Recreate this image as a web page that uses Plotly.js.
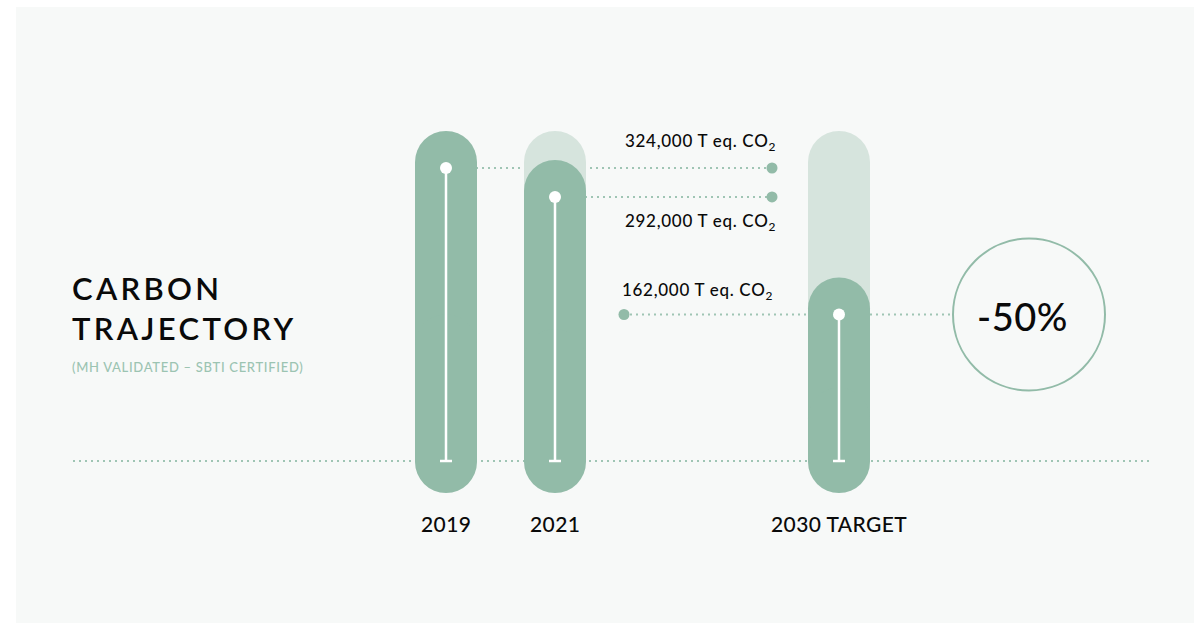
<!DOCTYPE html>
<html><head><meta charset="utf-8">
<script src="https://cdn.plot.ly/plotly-3.0.1.min.js"></script>
<style>html,body{margin:0;padding:0;background:#fff}#chart{width:1194px;height:623px}</style>
</head><body><div id="chart"></div>
<script>
// ---- data ----
const categories = ['2019', '2021', '2030 TARGET'];
const emissions = [324000, 292000, 162000];          // T eq. CO2
const referenceLevel = 324000;                        // 2019 level, drawn as ghost bar
const valueLabels = ['324,000 T eq. CO<sub>2</sub>', '292,000 T eq. CO<sub>2</sub>', '162,000 T eq. CO<sub>2</sub>'];
const reductionLabel = '-50%';
const titleLines = ['CARBON', 'TRAJECTORY'];
const subtitleText = '(MH VALIDATED – SBTI CERTIFIED)';

// ---- layout / style constants ----
const W = 1194, H = 623;
const baselinePx = 461, refPx = 168;                  // pixel rows of 0 and of 324,000
const scale = (baselinePx - refPx) / 324000;          // px per T
const yMin = -(H - baselinePx) / scale, yMax = baselinePx / scale;
const catX = [446, 555, 839];
const barW = 62;
const padTop = 37 / scale, padBot = 32 / scale;
const endDotX = 772, startDotX = 624, circleX = 1029;
const GREEN = '#92bba8', GHOST = '#d6e4dd', DOT = '#9fc5b4', BG = '#f7f9f8', INK = '#0a0a0a';
const FONT = 'Lato, "Open Sans", sans-serif';
const spaced = (t, px) => `<span style="letter-spacing:${px}px">${t}</span>`;

const traces = [];
// ghost bars (2019 level behind 2021 and 2030)
traces.push({type: 'bar', x: catX.slice(1), y: catX.slice(1).map(() => referenceLevel + padTop), base: 0,
  width: barW, marker: {color: GHOST, cornerradius: barW / 2, line: {width: 0}}, hoverinfo: 'skip'});
// main bars, upper part (rounded top)
traces.push({type: 'bar', x: catX, y: emissions.map(v => v + padTop), base: 0,
  width: barW, marker: {color: GREEN, cornerradius: barW / 2, line: {width: 0}}, hoverinfo: 'skip'});
// main bars, lower part (rounded bottom)
traces.push({type: 'bar', x: catX, y: emissions.map(v => -(v * 0.5 + padBot)), base: emissions.map(v => v * 0.5),
  width: barW, marker: {color: GREEN, cornerradius: barW / 2, line: {width: 0}}, hoverinfo: 'skip'});
// white stems with T foot
const sx = [], sy = [];
emissions.forEach((v, i) => {
  sx.push(catX[i], catX[i], null, catX[i] - 6, catX[i] + 6, null);
  sy.push(v, 0, null, 0, 0, null);
});
traces.push({type: 'scatter', mode: 'lines', x: sx, y: sy, line: {color: '#ffffff', width: 2.5}, hoverinfo: 'skip'});
traces.push({type: 'scatter', mode: 'markers', x: catX, y: emissions, marker: {color: '#ffffff', size: 12}, hoverinfo: 'skip'});
// end dots of the leader lines
traces.push({type: 'scatter', mode: 'markers', x: [endDotX, endDotX, startDotX], y: emissions,
  marker: {color: GREEN, size: 11}, hoverinfo: 'skip'});
// reduction circle
traces.push({type: 'scatter', mode: 'markers', x: [circleX], y: [emissions[2]],
  marker: {size: 152, color: BG, line: {color: GREEN, width: 2}}, hoverinfo: 'skip'});

const dotted = {color: DOT, width: 2, dash: '2px,4px'};
const shapes = [
  {type: 'rect', xref: 'paper', yref: 'paper', x0: 16 / W, x1: 1, y0: 0, y1: 1 - 7 / H, fillcolor: BG, line: {width: 0}, layer: 'below'},
  {type: 'line', xref: 'x', yref: 'y', x0: 73, x1: 1152, y0: 0, y1: 0, line: dotted, layer: 'below'},
  {type: 'line', xref: 'x', yref: 'y', x0: catX[0], x1: endDotX, y0: emissions[0], y1: emissions[0], line: dotted, layer: 'below'},
  {type: 'line', xref: 'x', yref: 'y', x0: catX[1], x1: endDotX, y0: emissions[1], y1: emissions[1], line: dotted, layer: 'below'},
  {type: 'line', xref: 'x', yref: 'y', x0: startDotX, x1: circleX, y0: emissions[2], y1: emissions[2], line: dotted, layer: 'below'}
];

const labelFont = {family: FONT, size: 17, color: INK, weight: 500};
const annotations = [
  {x: endDotX + 6, y: emissions[0], yshift: 26, xanchor: 'right', yanchor: 'middle', text: spaced(valueLabels[0], 0.7)},
  {x: endDotX + 6, y: emissions[1], yshift: -25, xanchor: 'right', yanchor: 'middle', text: spaced(valueLabels[1], 0.7)},
  {x: startDotX - 4, y: emissions[2], yshift: 24, xanchor: 'left', yanchor: 'middle', text: spaced(valueLabels[2], 0.7)}
].map(a => Object.assign(a, {xref: 'x', yref: 'y', showarrow: false, font: labelFont}));
categories.forEach((c, i) => annotations.push({x: catX[i], y: 0, yshift: -62, xref: 'x', yref: 'y', showarrow: false,
  xanchor: 'center', yanchor: 'middle', text: spaced(c, 0.4), font: {family: FONT, size: 21, color: INK, weight: 500}}));
annotations.push({x: circleX, y: emissions[2], xshift: -7, yshift: -1, xref: 'x', yref: 'y', showarrow: false,
  xanchor: 'center', yanchor: 'middle', text: spaced(reductionLabel, 0.5), font: {family: FONT, size: 38, color: INK, weight: 500}});
annotations.push({xref: 'paper', yref: 'paper', x: 70 / W, y: 1 - 308 / H, xanchor: 'left', yanchor: 'middle', align: 'left',
  showarrow: false, text: titleLines.map(t => spaced(t, 3.3)).join('<br>'), font: {family: FONT, size: 31, color: INK, weight: 600}});
annotations.push({xref: 'paper', yref: 'paper', x: 70 / W, y: 1 - 367 / H, xanchor: 'left', yanchor: 'middle', align: 'left',
  showarrow: false, text: spaced(subtitleText, 0.7), font: {family: FONT, size: 13, color: '#9cc4b2', weight: 500}});

const layout = {
  width: W, height: H, margin: {l: 0, r: 0, t: 0, b: 0}, paper_bgcolor: '#ffffff', plot_bgcolor: 'rgba(0,0,0,0)',
  showlegend: false, hovermode: false, barmode: 'overlay',
  xaxis: {range: [0, W], visible: false, fixedrange: true},
  yaxis: {range: [yMin, yMax], visible: false, fixedrange: true},
  shapes: shapes, annotations: annotations
};
Plotly.newPlot('chart', traces, layout, {displayModeBar: false, staticPlot: true});
</script></body></html>
